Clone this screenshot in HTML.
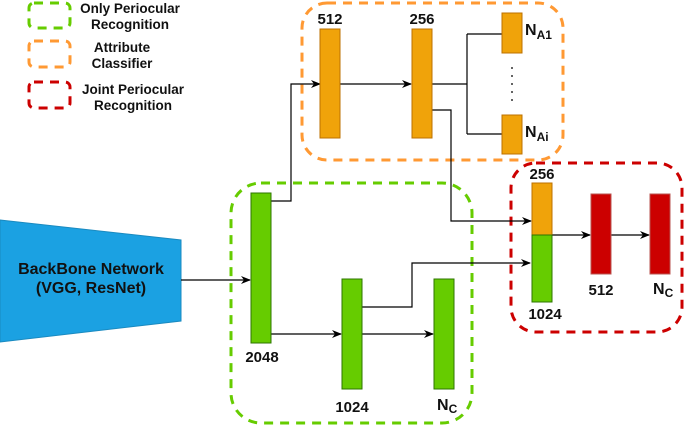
<!DOCTYPE html>
<html><head><style>
body{margin:0;background:#fff;}
svg{display:block;font-family:"Liberation Sans",sans-serif;font-weight:bold;}
</style></head><body>
<svg width="685" height="426" viewBox="0 0 685 426">
<defs><marker id="a" markerWidth="10" markerHeight="8" refX="9" refY="4" orient="auto" markerUnits="userSpaceOnUse"><path d="M0,0 L10,4 L0,8 L3,4 z" fill="#000"/></marker></defs>
<g fill="none" stroke-width="3" stroke-dasharray="9,7">
<rect x="29" y="3" width="41" height="25" rx="5" stroke="#66cc00"/>
<rect x="29" y="41" width="41" height="26" rx="5" stroke="#ff9933"/>
<rect x="29" y="82" width="41" height="26" rx="5" stroke="#cc0000"/>
<rect x="231" y="183" width="241" height="240" rx="30" stroke="#66cc00"/>
<rect x="302" y="3" width="261" height="157" rx="25" stroke="#ff9933"/>
<rect x="511" y="163" width="171" height="169" rx="25" stroke="#cc0000"/>
</g>
<g font-size="13.5" text-anchor="middle" fill="#111">
<text x="130" y="13">Only Periocular</text><text x="130" y="29">Recognition</text>
<text x="122" y="52">Attribute</text><text x="122" y="68">Classifier</text>
<text x="133" y="94">Joint Periocular</text><text x="133" y="110">Recognition</text>
</g>
<polygon points="0,220 181,240 181,321 0,342" fill="#1ba1e2" stroke="#1a8ac0"/>
<g font-size="16" text-anchor="middle" fill="#111">
<text x="91" y="274">BackBone Network</text><text x="91" y="293">(VGG, ResNet)</text>
</g>
<g stroke="#000" stroke-width="1.2" fill="none">
<path d="M181 280 H250" marker-end="url(#a)"/>
<path d="M271 334 H341" marker-end="url(#a)"/>
<path d="M362 334 H433" marker-end="url(#a)"/>
<path d="M362 307 H412 V263 H530" marker-end="url(#a)"/>
<path d="M271 201 H291 V84 H320" marker-end="url(#a)"/>
<path d="M340 84 H411" marker-end="url(#a)"/>
<path d="M432 84 H467 M467 34 V134 M467 34 H502 M467 134 H502"/>
<path d="M432 110 H451 V221 H531" marker-end="url(#a)"/>
<path d="M552 235 H590" marker-end="url(#a)"/>
<path d="M611 235 H649" marker-end="url(#a)"/>
</g>
<g stroke-width="1">
<rect x="251" y="193" width="20" height="150" fill="#66cc00" stroke="#2d7600"/>
<rect x="342" y="279" width="20" height="110" fill="#66cc00" stroke="#2d7600"/>
<rect x="434" y="279" width="20" height="110" fill="#66cc00" stroke="#2d7600"/>
<rect x="320" y="29" width="20" height="109" fill="#f0a30a" stroke="#bd7000"/>
<rect x="412" y="29" width="20" height="109" fill="#f0a30a" stroke="#bd7000"/>
<rect x="502" y="13" width="20" height="40" fill="#f0a30a" stroke="#bd7000"/>
<rect x="502" y="115" width="20" height="39" fill="#f0a30a" stroke="#bd7000"/>
<rect x="532" y="183" width="20" height="52" fill="#f0a30a" stroke="#bd7000"/>
<rect x="532" y="235" width="20" height="67" fill="#66cc00" stroke="#2d7600"/>
<rect x="591" y="194" width="20" height="80" fill="#cc0000" stroke="#b85450"/>
<rect x="650" y="194" width="20" height="80" fill="#cc0000" stroke="#b85450"/>
</g>
<g fill="#333"><circle cx="512" cy="68" r="1"/><circle cx="512" cy="76" r="1"/><circle cx="512" cy="84" r="1"/><circle cx="512" cy="92" r="1"/><circle cx="512" cy="100" r="1"/></g>
<g font-size="15" text-anchor="middle" fill="#111">
<text x="262" y="362">2048</text>
<text x="352" y="412">1024</text>
<text x="330" y="24">512</text>
<text x="422" y="24">256</text>
<text x="542" y="179">256</text>
<text x="545" y="319">1024</text>
<text x="601" y="295">512</text>
</g>
<g font-size="16" fill="#111">
<text x="437" y="410">N<tspan font-size="12" dy="3">C</tspan></text>
<text x="653" y="294">N<tspan font-size="12" dy="3">C</tspan></text>
<text x="525" y="35">N<tspan font-size="12" dy="4">A1</tspan></text>
<text x="525" y="137">N<tspan font-size="12" dy="4">Ai</tspan></text>
</g>
</svg>
</body></html>
